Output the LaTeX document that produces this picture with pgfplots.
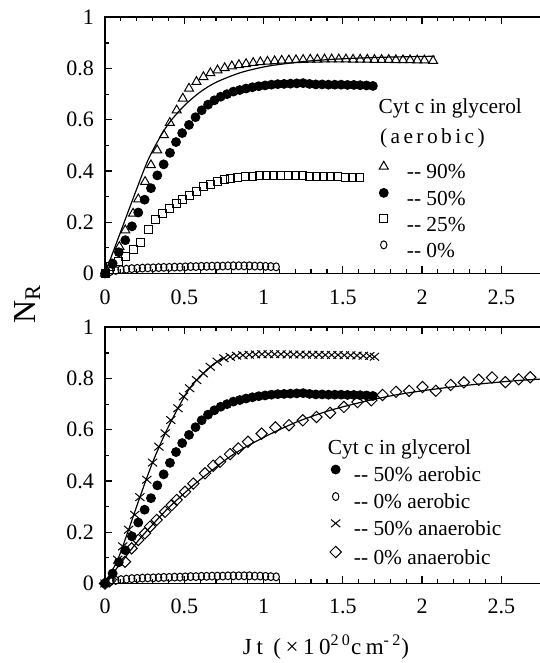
\documentclass[border=0pt]{standalone}
\usepackage{fontspec}
\setmainfont{Liberation Serif}
\usepackage{pgfplots}
\usepackage{pgfplotstable}
\pgfplotsset{compat=1.18}

% 90% glycerol, aerobic
\pgfplotstableread{
x y
0 0
0.04 0.035
0.091 0.104
0.128 0.169
0.177 0.234
0.21 0.29
0.253 0.358
0.29 0.423
0.329 0.481
0.372 0.54
0.409 0.588
0.452 0.637
0.491 0.683
0.53 0.722
0.577 0.748
0.621 0.767
0.665 0.782
0.71 0.793
0.755 0.802
0.80 0.809
0.845 0.814
0.89 0.818
0.935 0.822
0.98 0.825
1.025 0.827
1.07 0.829
1.115 0.831
1.16 0.832
1.205 0.833
1.25 0.834
1.295 0.835
1.34 0.835
1.385 0.836
1.43 0.836
1.475 0.836
1.52 0.836
1.565 0.835
1.61 0.835
1.655 0.835
1.70 0.834
1.745 0.834
1.79 0.834
1.835 0.833
1.88 0.833
1.925 0.833
1.97 0.832
2.015 0.832
2.07 0.830
}\glyninety

\pgfplotstableread{
x y
0 0
0.1 0.165
0.2 0.33
0.273 0.445
0.35 0.535
0.41 0.592
0.5 0.655
0.6 0.708
0.7 0.746
0.85 0.783
1.0 0.806
1.125 0.818
1.3 0.83
1.5 0.838
1.75 0.844
2.08 0.848
}\fitninety

% 50% glycerol, aerobic
\pgfplotstableread{
x y
0 0
0.048 0.039
0.087 0.083
0.128 0.13
0.17 0.184
0.21 0.238
0.25 0.288
0.29 0.333
0.33 0.383
0.37 0.426
0.41 0.471
0.448 0.513
0.487 0.548
0.53 0.58
0.571 0.61
0.61 0.637
0.65 0.659
0.69 0.676
0.73 0.69
0.77 0.70
0.81 0.71
0.85 0.716
0.89 0.722
0.93 0.727
0.97 0.731
1.01 0.734
1.05 0.737
1.09 0.739
1.13 0.74
1.17 0.741
1.21 0.742
1.25 0.743
1.29 0.74
1.33 0.738
1.37 0.738
1.41 0.737
1.45 0.737
1.49 0.737
1.53 0.736
1.57 0.736
1.61 0.735
1.65 0.734
1.69 0.732
}\glyfifty

% 25% glycerol, aerobic
\pgfplotstableread{
x y
0 0
0.037 0.027
0.085 0.045
0.128 0.065
0.177 0.092
0.221 0.12
0.275 0.17
0.318 0.209
0.361 0.235
0.405 0.254
0.448 0.274
0.491 0.29
0.535 0.306
0.578 0.319
0.621 0.339
0.665 0.348
0.708 0.358
0.751 0.365
0.794 0.371
0.838 0.374
0.885 0.378
0.93 0.38
0.975 0.381
1.02 0.382
1.065 0.382
1.11 0.382
1.155 0.382
1.2 0.381
1.245 0.381
1.29 0.38
1.335 0.379
1.38 0.378
1.425 0.377
1.47 0.377
1.515 0.376
1.56 0.375
1.605 0.374
}\glyquarter

% 0% glycerol, aerobic
\pgfplotstableread{
x y
0 0
0.034 0.008
0.068 0.012
0.101 0.015
0.135 0.017
0.169 0.019
0.203 0.020
0.236 0.021
0.270 0.022
0.304 0.022
0.338 0.023
0.371 0.024
0.405 0.024
0.439 0.025
0.473 0.025
0.506 0.026
0.540 0.027
0.574 0.027
0.608 0.028
0.641 0.028
0.675 0.029
0.709 0.029
0.743 0.029
0.776 0.030
0.810 0.030
0.844 0.030
0.878 0.030
0.911 0.030
0.945 0.029
0.979 0.029
1.013 0.028
1.046 0.027
1.080 0.026
}\glyzero

% 50% glycerol, anaerobic
\pgfplotstableread{
x y
0 0
0.048 0.028
0.08 0.093
0.112 0.145
0.149 0.21
0.188 0.268
0.22 0.337
0.264 0.405
0.30 0.472
0.34 0.534
0.38 0.586
0.415 0.638
0.46 0.684
0.495 0.73
0.534 0.762
0.578 0.794
0.62 0.82
0.664 0.846
0.708 0.866
0.75 0.879
0.79 0.885
0.83 0.889
0.87 0.891
0.91 0.893
0.95 0.894
0.99 0.895
1.03 0.895
1.07 0.895
1.11 0.895
1.15 0.894
1.19 0.894
1.23 0.894
1.27 0.893
1.31 0.893
1.35 0.893
1.39 0.892
1.43 0.892
1.47 0.892
1.51 0.891
1.55 0.891
1.59 0.890
1.63 0.889
1.67 0.888
1.70 0.885
}\anfifty

\pgfplotstableread{
x y
0 0
0.08 0.093
0.149 0.21
0.22 0.337
0.30 0.472
0.38 0.586
0.46 0.684
0.534 0.762
0.62 0.82
0.708 0.866
0.75 0.879
}\fitanfifty

% 0% glycerol, anaerobic
\pgfplotstableread{
x y
0 0
0.03 0.01
0.126 0.085
0.168 0.137
0.210 0.170
0.252 0.196
0.284 0.222
0.326 0.248
0.379 0.280
0.421 0.306
0.452 0.326
0.505 0.358
0.557 0.39
0.631 0.43
0.683 0.46
0.726 0.475
0.789 0.505
0.841 0.527
0.902 0.553
0.988 0.585
1.075 0.609
1.161 0.618
1.248 0.637
1.334 0.650
1.420 0.666
1.507 0.689
1.593 0.708
1.680 0.715
1.751 0.736
1.836 0.748
1.919 0.752
2.003 0.767
2.087 0.752
2.181 0.775
2.264 0.785
2.358 0.795
2.442 0.804
2.526 0.786
2.610 0.797
2.683 0.805
}\anzero

\pgfplotstableread{
x y
0 0
0.1 0.08
0.2 0.16
0.3 0.23
0.4 0.295
0.5 0.352
0.6 0.405
0.8 0.50
1.0 0.57
1.2 0.628
1.4 0.672
1.6 0.705
1.8 0.732
2.0 0.752
2.2 0.768
2.4 0.781
2.6 0.792
2.8 0.80
}\fitanzero

\pgfplotsset{
  panel/.style={
    scale only axis, width=221.9pt, height=128.1pt,
    xmin=0, xmax=2.8, ymin=0, ymax=1,
    xtick={0,0.5,1,1.5,2,2.5}, ytick={0,0.2,0.4,0.6,0.8,1},
    minor x tick num=4, minor y tick num=1,
    ytick pos=left,
    tick align=inside, major tick length=3.5pt, minor tick length=2pt,
    axis line style={line width=0.8pt},
    every tick/.style={black, line width=0.6pt},
    /pgf/number format/assume math mode=true,
    tick label style={font=\fontsize{11}{13}\selectfont},
    yticklabel style={xshift=-2pt},
    legend image code/.code={\draw[##1] plot coordinates {(0pt,3.4pt)};},
    legend cell align=left,
    legend style={draw=none, fill=none, inner sep=0pt, outer sep=0pt,
      anchor=north west, font=\fontsize{10.7}{12}\selectfont,
      nodes={inner sep=0pt, text height=8pt, text depth=2.5pt}},
  },
  fitline/.style={black, line width=0.6pt, smooth, forget plot, mark=none},
  pts/.style={black, only marks, mark options={line width=0.5pt}},
}

\begin{document}
\begin{tikzpicture}
\path[use as bounding box] (0,0) rectangle (270pt,331.5pt);

% upper panel
\begin{axis}[panel, at={(52.5pt,194.75pt)}, anchor=south west,
  xticklabel style={yshift=-4.5pt},
  legend style={at={(0.618,0.438)}, row sep=2.35pt, column sep=9.3pt}]
\addplot[fitline] table {\fitninety};
\addplot[pts, mark=triangle, mark size=2.6pt] table {\glyninety};
\addlegendentry{-{}- 90\%}
\addplot[pts, mark=*, mark size=2.2pt] table {\glyfifty};
\addlegendentry{-{}- 50\%}
\addplot[pts, mark=square, mark size=2.0pt] table {\glyquarter};
\addlegendentry{-{}- 25\%}
\addplot[pts, mark=o, mark size=2.0pt, mark options={xscale=0.8, line width=0.5pt}] table {\glyzero};
\addlegendentry{-{}- 0\%}
\node[anchor=base west, inner sep=0pt, font=\fontsize{10.7}{12}\selectfont]
  at (axis cs:1.724,0.625) {Cyt c in glycerol};
\node[anchor=base west, inner sep=0pt, font=\fontsize{10.7}{12}\selectfont\addfontfeature{LetterSpace=16}]
  at (axis cs:1.733,0.508) {(aerobic)};
\end{axis}

% lower panel
\begin{axis}[panel, at={(52.5pt,39.75pt)}, anchor=south west,
  xticklabel style={yshift=-4pt},
  legend style={at={(0.507,0.462)}, row sep=2.85pt, column sep=6.3pt}]
\addplot[fitline] table {\fitanfifty};
\addplot[fitline] table {\fitanzero};
\addplot[pts, mark=*, mark size=2.2pt] table {\glyfifty};
\addlegendentry{-{}- 50\% aerobic}
\addplot[pts, mark=o, mark size=2.0pt, mark options={xscale=0.8, line width=0.5pt}] table {\glyzero};
\addlegendentry{-{}- 0\% aerobic}
\addplot[pts, mark=x, mark size=2.7pt, mark options={xscale=1.2, line width=0.5pt}] table {\anfifty};
\addlegendentry{-{}- 50\% anaerobic}
\addplot[pts, mark=square, mark size=2.0pt, mark options={rotate=45, line width=0.5pt}] table {\anzero};
\addlegendentry{-{}- 0\% anaerobic}
\node[anchor=base west, inner sep=0pt, font=\fontsize{10.7}{12}\selectfont]
  at (axis cs:1.404,0.505) {Cyt c in glycerol};
\end{axis}

\node[rotate=90, anchor=base, inner sep=0pt, font=\fontsize{16}{18}\selectfont]
  at (17.5pt,179.5pt) {N\textsubscript{R}};
\node[anchor=base, inner sep=0pt, font=\fontsize{11.5}{13}\selectfont\addfontfeature{LetterSpace=20}]
  at (163pt,4.5pt) {Jt (×10\textsuperscript{20}cm\textsuperscript{-2})};
\end{tikzpicture}
\end{document}
